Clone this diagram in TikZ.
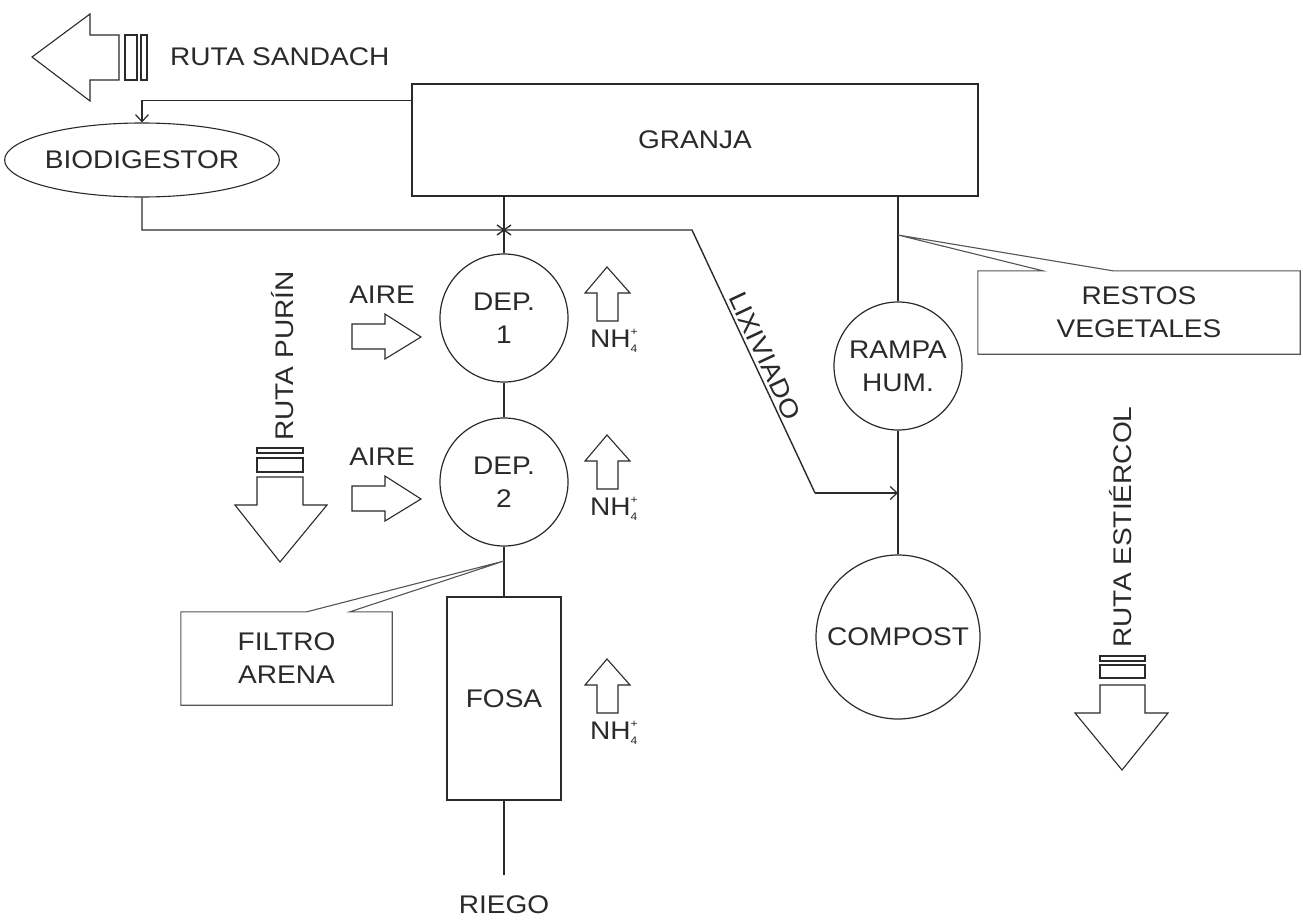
\documentclass[tikz,border=0pt]{standalone}
\usepackage{fontspec}
\setmainfont{Liberation Sans}[FakeStretch=1.1]
\usetikzlibrary{shapes.geometric,arrows.meta,calc}
\definecolor{ink}{HTML}{2A2A2A}
\definecolor{soft}{HTML}{555555}
\begin{document}
\begin{tikzpicture}[x=1pt,y=-1pt,
  ln/.style={draw=ink, line width=1.4pt},
  blk/.style={draw=ink, line width=1.1pt, line join=miter},
  cal/.style={draw=soft, line width=1.1pt},
  lbl/.style={font=\fontsize{25.5}{33}\selectfont, text=ink, align=center, inner sep=0pt},
  box/.style={rectangle, draw=ink, line width=1.4pt, lbl},
  tank/.style={circle, draw=ink, line width=1.2pt, minimum size=128pt, lbl},
  tipa/.style={-{Straight Barb[length=7pt,width=13pt,line width=1.2pt]}},
  nh/.style={font=\fontsize{11}{11}\selectfont}
]
\useasboundingbox (0,0) rectangle (1303,923);

% main nodes
\node[box, minimum width=566pt, minimum height=112pt] (granja) at (695,140) {GRANJA};
\node[ellipse, draw=ink, line width=1.1pt, minimum width=264pt, minimum height=74pt, lbl] (bio) at (142,160) {BIODIGESTOR};
\node[tank] (dep1) at (504,318) {DEP.\\1};
\node[tank] (dep2) at (504,482) {DEP.\\2};
\node[box, minimum width=114pt, minimum height=203pt] (fosa) at (504,698.5) {FOSA};
\node[lbl] (riego) at (504,905) {RIEGO};
\coordinate (riegoend) at (504,875);
\node[tank] (rampa) at (898,366) {RAMPA\\HUM.};
\node[tank, minimum size=164pt] (compost) at (898,637) {COMPOST};

% connectors
\draw[ln] (granja.south -| dep1) -- (dep1.north);
\draw[ln] (dep1.south) -- (dep2.north);
\draw[ln] (dep2.south) -- (fosa.north);
\draw[ln] (fosa.south) -- (riegoend);
\draw[ln] (granja.south -| rampa) -- (rampa.north);
\draw[ln] (rampa.south) -- (compost.north);
\draw[ln,tipa] ($(granja.north west)+(0,17)$) -| (bio.north);
\coordinate (cx) at (504,230);
\coordinate (lxa) at (692,230);
\coordinate (lxb) at (815,493);
\draw[ln] (bio.south) |- (cx) -- (lxa) -- node[lbl, above=3pt, sloped] {LIXIVIADO} (lxb);
\draw[ln,tipa] (lxb) -- (lxb -| rampa);
\draw[ln] ($(cx)+(-7,-5)$) -- ($(cx)+(7,5)$) ($(cx)+(-7,5)$) -- ($(cx)+(7,-5)$);

% callouts
\node[lbl, minimum width=211pt, minimum height=93pt] (filtro) at (286.5,658.5) {FILTRO\\ARENA};
\coordinate (filtip) at (504,561);
\draw[cal] ($(filtro.north west)+(126,0)$) -- (filtro.north west) -- (filtro.south west) -- (filtro.south east) -- (filtro.north east) -- ($(filtro.north west)+(169,0)$) -- (filtip) -- cycle;
\node[lbl, minimum width=322pt, minimum height=83pt] (restos) at (1139,312.5) {RESTOS\\VEGETALES};
\coordinate (restip) at (898,235);
\draw[cal] ($(restos.north west)+(65,0)$) -- (restos.north west) -- (restos.south west) -- (restos.south east) -- (restos.north east) -- ($(restos.north west)+(135,0)$) -- (restip) -- cycle;

% ruta sandach
\draw[blk] (32,57) -- (90,14) -- (90,35) -- (119,35) -- (119,80) -- (90,80) -- (90,101) -- cycle;
\draw[blk] (125,35) rectangle (137,80);
\draw[blk] (141,35) rectangle (147,80);
\node[lbl, anchor=west] (sandach) at (170,57) {RUTA SANDACH};

% ruta purin
\draw[blk] (280,562) -- (327,505) -- (303,505) -- (303,477) -- (257,477) -- (257,505) -- (235,505) -- cycle;
\draw[blk] (257,458) rectangle (303,472);
\draw[blk] (257,448) rectangle (303,453);
\node[lbl, rotate=90] (purin) at (283,356) {RUTA PURÍN};

% ruta estiercol
\draw[blk] (1122,770) -- (1168,713) -- (1145,713) -- (1145,685) -- (1100,685) -- (1100,713) -- (1075,713) -- cycle;
\draw[blk] (1100,665) rectangle (1145,678);
\draw[blk] (1100,656) rectangle (1145,661);
\node[lbl, rotate=90] (estiercol) at (1121,527) {RUTA ESTIÉRCOL};

% aire arrows
\foreach \dy/\nm in {0/aireA,162/aireB}{
  \draw[blk] (352,324+\dy) -- (385,324+\dy) -- (385,314+\dy) -- (421,337+\dy) -- (385,359+\dy) -- (385,349+\dy) -- (352,349+\dy) -- cycle;
  \node[lbl] (\nm) at (382,295+\dy) {AIRE};
}

% NH4+ arrows
\foreach \dy/\nm in {0/nhA,168/nhB,392/nhC}{
  \draw[blk] (607,267+\dy) -- (630,293+\dy) -- (618,293+\dy) -- (618,321+\dy) -- (597,321+\dy) -- (597,293+\dy) -- (585,293+\dy) -- cycle;
  \node[lbl] (\nm) at (614,341+\dy) {NH\rlap{\raisebox{-0.35ex}{\fontsize{11}{11}\selectfont 4}}\raisebox{0.9ex}{\fontsize{11}{11}\selectfont +}};
}
\end{tikzpicture}
\end{document}
